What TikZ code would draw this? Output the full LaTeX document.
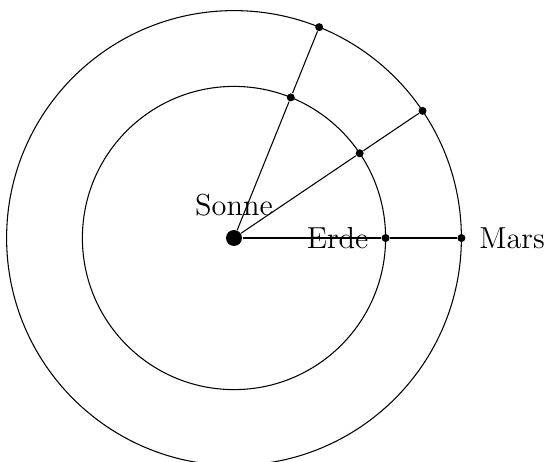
\documentclass[tikz,border=0pt]{standalone}
\usetikzlibrary{positioning}
\tikzset{
  planet/.style={circle,fill,inner sep=0pt,minimum size=3pt},
  sonne/.style={circle,fill,inner sep=0pt,minimum size=6pt},
}
\begin{document}
\begin{tikzpicture}[font=\fontsize{11.4}{14}\selectfont]
  \useasboundingbox (-3.087,-2.942) rectangle (4.103,3.140);
  % Bahnen
  \draw (0,0) circle (2);
  \draw (0,0) circle (3);
  \node[sonne] (sun) at (0,0) {};
  \foreach \w/\n in {0/0,34/1,68/2} {
    \node[planet] (e\n) at (\w:2) {};
    \node[planet] (m\n) at (\w:3) {};
    \draw (sun) -- (e\n) -- (m\n);
  }
  \node[above=1.5pt of sun] (sonnelabel) {Sonne};
  \node[left=1.2pt of e0] (erdelabel) {Erde};
  \node[right=1.5pt of m0] (marslabel) {Mars};
\end{tikzpicture}
\end{document}
